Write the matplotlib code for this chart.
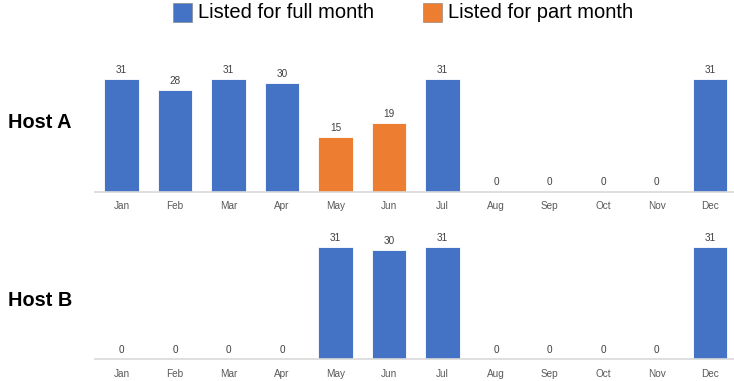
import matplotlib
matplotlib.use("Agg")
import matplotlib.pyplot as plt
from matplotlib.patches import Rectangle

months = ["Jan", "Feb", "Mar", "Apr", "May", "Jun", "Jul", "Aug", "Sep", "Oct", "Nov", "Dec"]
host_a_days = [31, 28, 31, 30, 15, 19, 31, 0, 0, 0, 0, 31]
host_a_partial = [False, False, False, False, True, True, False, False, False, False, False, False]
host_b_days = [0, 0, 0, 0, 31, 30, 31, 0, 0, 0, 0, 31]
host_b_partial = [False] * 12
hosts = ["Host A", "Host B"]

FULL = "#4472C4"
PART = "#ED7D31"
FONT = ["Liberation Sans", "DejaVu Sans"]

W, H = 734, 381
fig = plt.figure(figsize=(W / 100, H / 100), dpi=100)

left = 94.75 / W
width = 642 / W
height = 112.2 / H
bottoms = [(H - 191.5) / H, (H - 359) / H]
label_y = [122, 300]

for days, partial, bottom, name, ly in zip(
    [host_a_days, host_b_days], [host_a_partial, host_b_partial], bottoms, hosts, label_y
):
    ax = fig.add_axes([left, bottom, width, height])
    x = list(range(len(months)))
    colors = [PART if p else FULL for p in partial]
    bars = ax.bar(x, days, width=0.65, color=colors, edgecolor="white", linewidth=0.6)
    ax.set_xlim(-0.5, len(months) - 0.5)
    ax.set_ylim(0, 31)
    for b, v in zip(bars, days):
        ax.annotate(str(v), (b.get_x() + b.get_width() / 2, v), xytext=(0, 3),
                    textcoords="offset points", ha="center", va="bottom",
                    fontsize=7.2, color="#404040", family=FONT, annotation_clip=False)
    ax.set_xticks(x)
    ax.set_xticklabels(months, fontsize=7.2, color="#595959", family=FONT)
    ax.tick_params(axis="x", length=0, pad=7)
    ax.set_yticks([])
    for s in ["top", "right", "left"]:
        ax.spines[s].set_visible(False)
    ax.spines["bottom"].set_color("#d9d9d9")
    ax.spines["bottom"].set_linewidth(1.2)
    ax.patch.set_alpha(0)
    fig.text(8 / W, 1 - ly / H, name, fontsize=14.3, fontweight="bold",
             family=FONT, ha="left", va="center", color="black")

# Legend drawn in figure coordinates
legend_items = [("Listed for full month", FULL, 173), ("Listed for part month", PART, 423)]
for label, color, px in legend_items:
    fig.add_artist(Rectangle((px / W, 1 - 22 / H), 19 / W, 19 / H,
                             transform=fig.transFigure, facecolor=color,
                             edgecolor="#7f7f7f", linewidth=0.4))
    fig.text((px + 25) / W, 1 - 12.5 / H, label, fontsize=14.5, family=FONT,
             ha="left", va="center", color="black")

fig.savefig("out.png", dpi=100)
